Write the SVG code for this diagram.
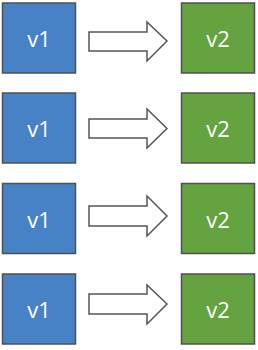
<svg xmlns="http://www.w3.org/2000/svg" width="258" height="350" viewBox="0 0 258 350">
<style>
.v1{fill:#4782c7;stroke:#505050;stroke-width:1.5}
.v2{fill:#64a33f;stroke:#505050;stroke-width:1.5}
.t{fill:#ffffff;font-family:"Open Sans","Noto Sans",sans-serif;font-size:22px;text-anchor:middle;dominant-baseline:central}
.arr{fill:#ffffff;stroke:#555555;stroke-width:1.5;stroke-linejoin:miter}
</style>
<rect width="258" height="350" fill="#ffffff"/>
<g id="connectors">
<polygon class="arr" points="89,32 147,32 147,22 167,41 147,61 147,51 89,51"/>
<polygon class="arr" points="89,119 147,119 147,109 167,128.5 147,148 147,138 89,138"/>
<polygon class="arr" points="89,206 147,206 147,196 167,216 147,236 147,226 89,226"/>
<polygon class="arr" points="89,294 147,294 147,285 167,304 147,324 147,314 89,314"/>
</g>
<g id="a1"><rect class="v1" x="2.5" y="3" width="73" height="70"/><text class="t" x="39" y="38">v1</text></g>
<g id="b1"><rect class="v2" x="181.5" y="3" width="73" height="70"/><text class="t" x="218" y="38">v2</text></g>
<g id="a2"><rect class="v1" x="2.5" y="93" width="73" height="70"/><text class="t" x="39" y="128">v1</text></g>
<g id="b2"><rect class="v2" x="181.5" y="93" width="73" height="70"/><text class="t" x="218" y="128">v2</text></g>
<g id="a3"><rect class="v1" x="2.5" y="183.5" width="73" height="70"/><text class="t" x="39" y="218.5">v1</text></g>
<g id="b3"><rect class="v2" x="181.5" y="183.5" width="73" height="70"/><text class="t" x="218" y="218.5">v2</text></g>
<g id="a4"><rect class="v1" x="2.5" y="274" width="73" height="70"/><text class="t" x="39" y="309">v1</text></g>
<g id="b4"><rect class="v2" x="181.5" y="274" width="73" height="70"/><text class="t" x="218" y="309">v2</text></g>
</svg>
